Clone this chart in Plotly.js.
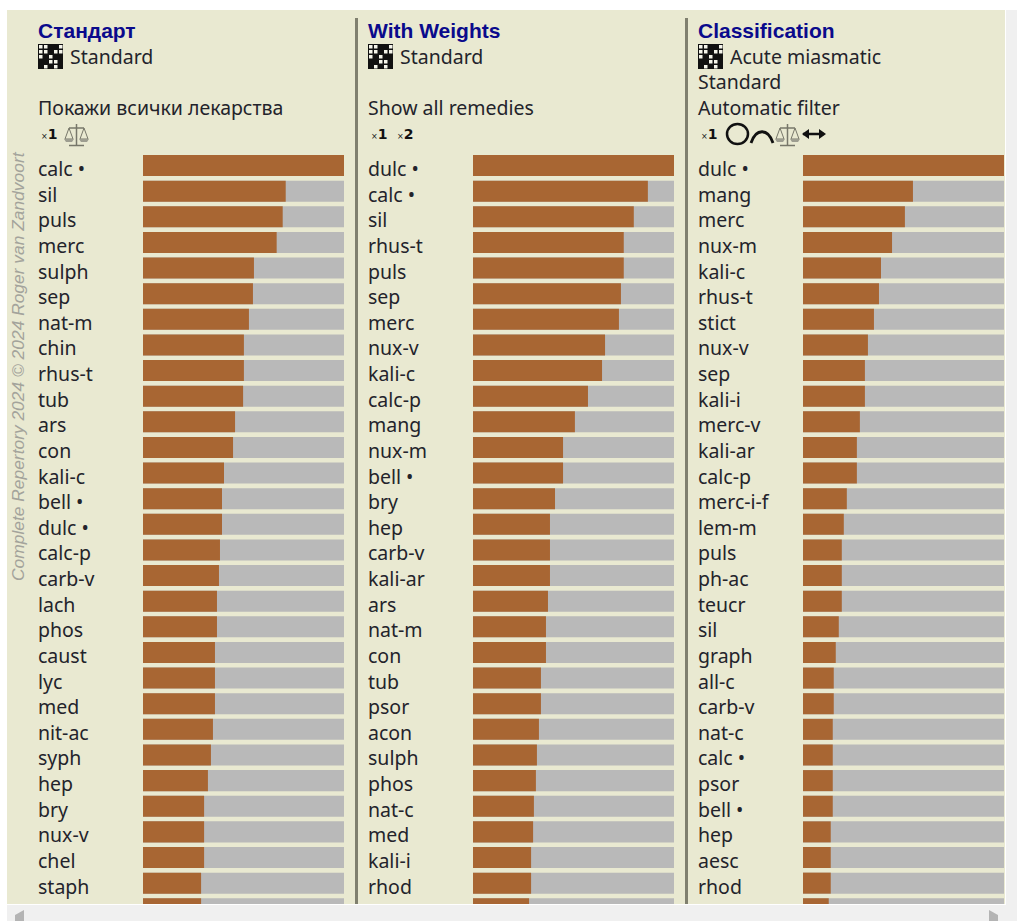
<!DOCTYPE html>
<html><head><meta charset="utf-8">
<script src="https://cdn.plot.ly/plotly-3.0.1.min.js"></script>
<style>html,body{margin:0;padding:0;background:#fff;overflow:hidden}#c{width:1017px;height:921px}</style>
</head><body><div id="c"></div>
<script>
const W=1017,H=921;
const remedies1=["calc •","sil","puls","merc","sulph","sep","nat-m","chin","rhus-t","tub","ars","con","kali-c","bell •","dulc •","calc-p","carb-v","lach","phos","caust","lyc","med","nit-ac","syph","hep","bry","nux-v","chel","staph",""];
const values1=[100,71,69.5,66.5,55.2,54.7,52.7,50.2,50.2,49.8,45.8,44.8,40.3,39.3,39.3,38.3,37.8,36.8,36.8,35.8,35.8,35.8,34.8,33.8,32.3,30.4,30.4,30.4,28.9,28.9];
const remedies2=["dulc •","calc •","sil","rhus-t","puls","sep","merc","nux-v","kali-c","calc-p","mang","nux-m","bell •","bry","hep","carb-v","kali-ar","ars","nat-m","con","tub","psor","acon","sulph","phos","nat-c","med","kali-i","rhod",""];
const values2=[100,87,80,75,75,73.6,72.6,65.7,64.2,57.2,50.7,44.8,44.8,40.8,38.3,38.3,38.3,37.3,36.3,36.3,33.8,33.8,32.8,31.8,31.3,30.3,29.9,28.9,28.9,27.9];
const remedies3=["dulc •","mang","merc","nux-m","kali-c","rhus-t","stict","nux-v","sep","kali-i","merc-v","kali-ar","calc-p","merc-i-f","lem-m","puls","ph-ac","teucr","sil","graph","all-c","carb-v","nat-c","calc •","psor","bell •","hep","aesc","rhod",""];
const values3=[100,54.7,50.7,44.3,38.8,37.8,35.3,32.3,30.8,30.8,28.3,26.8,26.8,21.8,20.3,19.3,19.3,19.3,17.8,16.3,15.3,15.3,14.8,14.8,14.8,14.8,13.8,13.8,13.8,12.8];
const panelTitles=["Стандарт","With Weights","Classification"];
const panelLines=[["Standard","","Покажи всички лекарства"],["Standard","","Show all remedies"],["Acute miasmatic","Standard","Automatic filter"]];
const watermark="Complete Repertory 2024 © 2024 Roger van Zandvoort";

const remedies=[remedies1,remedies2,remedies3], values=[values1,values2,values3];
const panelX=[38,368,698], barX=[143,473,803], barW=201;
const FONT='"Noto Sans", sans-serif';
const TS=19.5, TC='#23232b';
const px=x=>x/W, py=y=>1-y/H;
const rows=remedies1.map((_,i)=>i);

const data=[], shapes=[], annotations=[];
const layout={width:W,height:H,margin:{l:0,r:0,t:0,b:0},paper_bgcolor:'#fff',plot_bgcolor:'rgba(0,0,0,0)',barmode:'overlay',showlegend:false,shapes,annotations,font:{family:FONT}};

function rect(x0,y0,x1,y1,color){shapes.push({type:'rect',layer:'below',xref:'paper',yref:'paper',x0:px(x0),x1:px(x1),y0:py(y0),y1:py(y1),fillcolor:color,line:{width:0}});}
function path(d,fill,line,lw){
  const s=d.map(p=>{ let o=p[0]; for(let i=1;i<p.length;i+=2) o+=px(p[i])+','+py(p[i+1])+' '; return o; }).join(' ');
  shapes.push({type:'path',xref:'paper',yref:'paper',path:s,fillcolor:fill||'rgba(0,0,0,0)',line:{color:line||'rgba(0,0,0,0)',width:lw||0}});
}
function text(x,y,t,opt={}){annotations.push(Object.assign({xref:'paper',yref:'paper',x:px(x),y:py(y),text:t,showarrow:false,xanchor:'left',yanchor:'middle',align:'left',borderpad:0,font:{family:FONT,size:TS,color:TC}},opt));}

// window chrome
rect(7,10,1005,904,'#e9e9d1');
rect(7,905,1017,921,'#f0f0f0');
rect(1006,10,1017,921,'#f0f0f0');
path([['M',24,910],['L',15,915],['L',15,921],['L',24,921],['Z']],'#b4b4b4');
path([['M',989,910],['L',998,915],['L',998,921],['L',989,921],['Z']],'#b4b4b4');
rect(355,18,358,904,'#80806f');
rect(685,18,688,904,'#80806f');

// watermark
text(18,366,'<i>'+watermark+'</i>',{textangle:-90,xanchor:'center',yanchor:'middle',font:{family:'"Liberation Sans",sans-serif',size:17.4,color:'#a3a39b'}});

const cells=["..##.","..#..",".#.##","##..#","#.#.#"];
function gridIcon(x,y){
  const c=5;
  rect(x,y,x+25,y+25,'#111');
  cells.forEach((r,j)=>[...r].forEach((v,i)=>{ if(v==='.') shapes.push({type:'rect',xref:'paper',yref:'paper',x0:px(x+i*c+1),x1:px(x+(i+1)*c-0.5),y0:py(y+j*c+1),y1:py(y+(j+1)*c-0.5),fillcolor:'#f4f4ea',line:{width:0}}); }));
}
function multiplier(x,n){text(x,134,'<span style="font-size:8px">×</span><b>'+n+'</b>',{font:{family:'"DejaVu Sans",sans-serif',size:14,color:'#111'}});}
function scale(x){
  const c='#77776a';
  path([['M',x+12.5,124],['L',x+12.5,145]],null,c,1.5);
  path([['M',x+5,128],['L',x+20,128]],null,c,1.5);
  path([['M',x+5,145.5],['L',x+20,145.5]],null,c,1.5);
  path([['M',x+1,139],['L',x+5,128],['L',x+9,139],['Z']],null,c,1);
  path([['M',x+16,139],['L',x+20,128],['L',x+24,139],['Z']],null,c,1);
  path([['M',x,139],['L',x+10,139],['L',x+8,142],['L',x+2,142],['Z']],'#9d9d90');
  path([['M',x+15,139],['L',x+25,139],['L',x+23,142],['L',x+17,142],['Z']],'#9d9d90');
}

[0,1,2].forEach(k=>{
  const s=k===0?'':String(k+1), xa='x'+s, ya='y'+s;
  const track=rows.map(()=>100);
  data.push({type:'bar',orientation:'h',x:track,y:rows,xaxis:xa,yaxis:ya,width:0.82,marker:{color:'#b9b9b9',line:{width:0}},hoverinfo:'skip'});
  data.push({type:'bar',orientation:'h',x:values[k],y:rows,xaxis:xa,yaxis:ya,width:0.82,marker:{color:'#a86633',line:{width:0}},text:remedies[k],hovertemplate:'%{text}: %{x}<extra></extra>',textposition:'none'});
  layout['xaxis'+s]={domain:[px(barX[k]),px(barX[k]+barW)],range:[0,100],visible:false,anchor:ya,fixedrange:true};
  layout['yaxis'+s]={domain:[py(904),py(155)],range:[(904-165.5)/25.63,-0.41],visible:false,anchor:xa,fixedrange:true};
  remedies[k].forEach((r,i)=>{ if(r) annotations.push({xref:'paper',yref:ya,x:px(panelX[k]-1.5),y:i,yshift:-3,text:r,showarrow:false,xanchor:'left',yanchor:'middle',borderpad:0,font:{family:FONT,size:TS,color:TC}}); });
  text(panelX[k]-1,30,'<b>'+panelTitles[k]+'</b>',{font:{family:'"Liberation Sans",sans-serif',size:21,color:'#0a0a8c'}});
  gridIcon(panelX[k],44);
  panelLines[k].forEach((t,j)=>{ if(t) text(panelX[k]-1.5+(j===0?32:0),56+j*25.6,t); });
  multiplier(panelX[k]+2,1);
});
multiplier(396,2);
scale(64);
// Classification method icons
shapes.push({type:'circle',xref:'paper',yref:'paper',x0:px(727),x1:px(748),y0:py(124),y1:py(144),line:{color:'#111',width:2.5},fillcolor:'rgba(0,0,0,0)'});
path([['M',751,143],['C',756,128,768,128,773,143]],null,'#111',2.8);
scale(775);
path([['M',803,134],['L',824,134]],null,'#111',2.5);
path([['M',802,134],['L',809,129],['L',809,139],['Z']],'#111');
path([['M',826,134],['L',819,129],['L',819,139],['Z']],'#111');

Plotly.newPlot('c',data,layout,{staticPlot:true,displayModeBar:false});
</script></body></html>
